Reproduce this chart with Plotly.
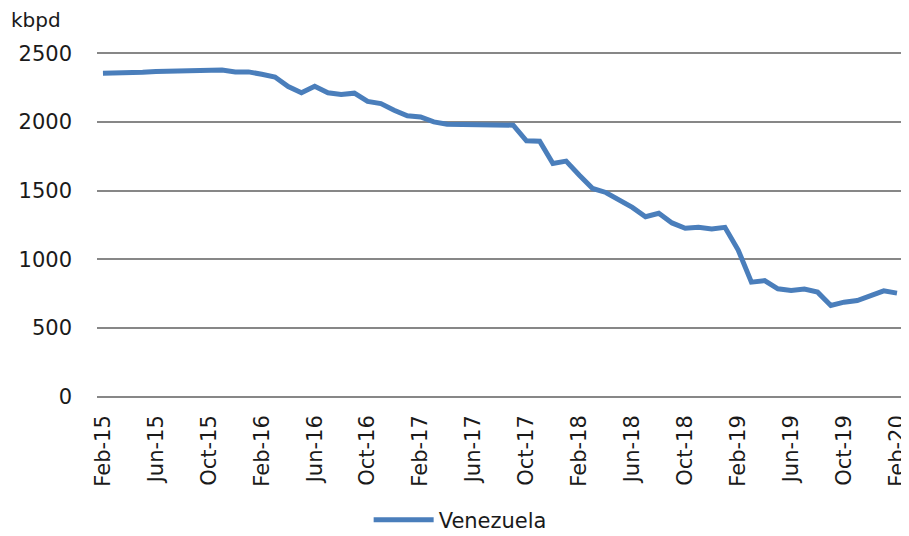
import pandas as pd
import plotly.graph_objects as go

months = [d.strftime("%b-%y") for d in pd.date_range("2015-02-01", "2020-02-01", freq="MS")]

venezuela = [
    2355, 2355, 2360, 2362, 2368, 2370, 2370, 2372, 2378, 2378,
    2365, 2365, 2348, 2328, 2258, 2213, 2260, 2213, 2200, 2210,
    2150, 2134, 2086, 2045, 2037, 2001, 1984, 1982, 1977, 1977,
    1977, 1977, 1863, 1860, 1698, 1715, 1613, 1516, 1487, 1436,
    1378, 1310, 1335, 1265, 1226, 1233, 1221, 1233, 1068, 834,
    845, 785, 773, 783, 761, 664, 688, 700, 736, 770, 754,
]

tick_labels = months[::4]
y_ticks = [0, 500, 1000, 1500, 2000, 2500]

FONT = "DejaVu Sans"
COLOR = "#4A7EBB"
GRID = "#878787"

fig = go.Figure()
fig.add_trace(go.Scatter(
    x=months, y=venezuela, mode="lines", name="Venezuela",
    line=dict(color=COLOR, width=5),
))

# page body has an 8px default margin, so the figure is 8px smaller and offset
fig.update_layout(
    width=901, height=528,
    margin=dict(l=89, r=0, t=44, b=138),
    paper_bgcolor="white", plot_bgcolor="white",
    font=dict(family=FONT, size=21, color="#1a1a1a"),
    showlegend=True,
    legend=dict(orientation="h", x=0.45, xanchor="center",
                yref="container", y=0.03, yanchor="middle",
                font=dict(family=FONT, size=21, color="#1a1a1a"), itemwidth=60),
    annotations=[dict(text="kbpd", xref="paper", yref="paper", x=-0.108, y=1.092,
                      xanchor="left", yanchor="middle", showarrow=False, borderpad=0,
                      font=dict(family=FONT, size=20, color="#1a1a1a"))],
)
fig.update_xaxes(
    type="category", range=[-0.45, 60.53],
    tickmode="array", tickvals=tick_labels, ticktext=tick_labels,
    tickangle=-90, showgrid=False, zeroline=False,
    showline=False, ticks="", ticklabelstandoff=12,
)
fig.update_yaxes(
    range=[-10, 2510], tickvals=y_ticks,
    showgrid=True, gridcolor=GRID, gridwidth=2,
    zeroline=False, showline=False, ticks="", ticklabelstandoff=24,
)

fig.write_html("out.html")
